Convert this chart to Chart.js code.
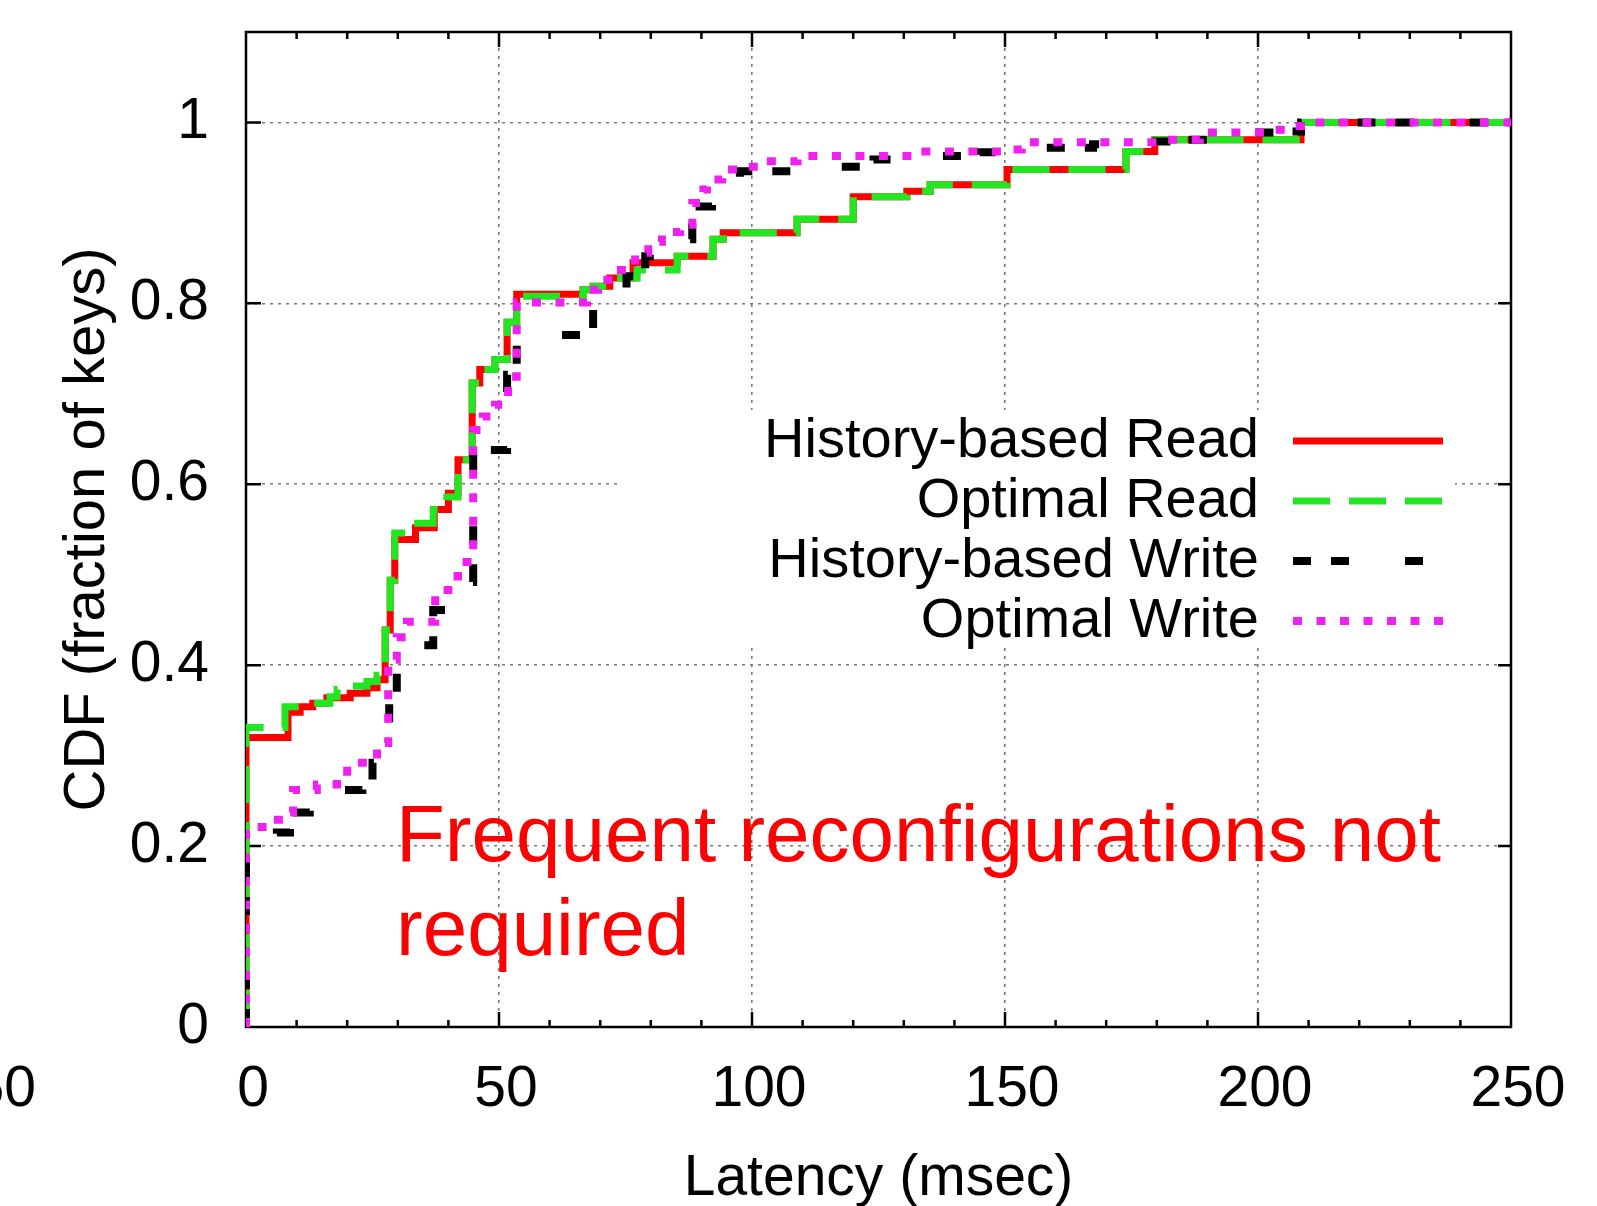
<!DOCTYPE html>
<html>
<head>
<meta charset="utf-8">
<script src="https://cdn.jsdelivr.net/npm/chart.js@4.4.1/dist/chart.umd.min.js"></script>
<style>
  html, body { margin: 0; padding: 0; background: #fff; }
  #wrap { width: 1597px; height: 1206px; position: relative; }
</style>
</head>
<body>
<div id="wrap"><canvas id="cdfChart" width="1597" height="1206"></canvas></div>
<script>
// axis ticks
const latencyTicks = [0, 50, 100, 150, 200, 250];
const cdfTicks = [0, 0.2, 0.4, 0.6, 0.8, 1];

// History-based Read
const readHistX = [0, 0, 8.3, 10.7, 13.2, 16.0, 20.6, 23.9, 25.9, 27.5, 28.5, 29.4, 33.5, 37.2, 40.0, 41.9, 44.7, 46.2, 49.2, 51.6, 53.5, 66.6, 68.6, 71.9, 76.5, 85.2, 92.3, 94.3, 108.9, 120.0, 130.6, 135.2, 150.4, 173.9, 179.6, 208.5, 250];
const readHistY = [0, 0.320, 0.348, 0.354, 0.358, 0.364, 0.369, 0.375, 0.384, 0.439, 0.494, 0.539, 0.552, 0.572, 0.590, 0.627, 0.712, 0.727, 0.738, 0.779, 0.810, 0.815, 0.819, 0.828, 0.845, 0.852, 0.871, 0.878, 0.893, 0.918, 0.924, 0.931, 0.948, 0.968, 0.981, 1.0, 1.0];

// Optimal Read
const readOptX = [0, 0, 7.7, 11.0, 16.6, 18.0, 21.1, 23.9, 25.9, 27.5, 28.5, 29.4, 33.0, 37.0, 39.7, 41.9, 44.7, 46.2, 49.2, 51.6, 53.5, 66.6, 68.6, 71.9, 77.3, 85.2, 92.3, 94.3, 108.9, 120.0, 130.6, 135.2, 150.4, 173.9, 179.8, 208.5, 250];
const readOptY = [0, 0.331, 0.354, 0.358, 0.365, 0.373, 0.377, 0.382, 0.389, 0.439, 0.494, 0.546, 0.557, 0.572, 0.586, 0.627, 0.712, 0.727, 0.738, 0.779, 0.808, 0.815, 0.819, 0.828, 0.837, 0.852, 0.871, 0.878, 0.893, 0.918, 0.924, 0.931, 0.948, 0.968, 0.981, 1.0, 1.0];

// History-based Write
const writeHistX = [0, 0, 6.1, 8.7, 12.6, 15.0, 17.2, 23.0, 25.0, 27.8, 28.3, 29.8, 37.0, 41.9, 44.9, 51.6, 53.5, 68.6, 70.0, 73.2, 75.2, 78.9, 79.8, 83.8, 88.2, 92.1, 93.7, 97.6, 111.5, 124.0, 131.2, 145.0, 151.6, 167.4, 173.0, 184.4, 199.4, 205.5, 208.5, 250];
const writeHistY = [0, 0.207, 0.215, 0.237, 0.246, 0.251, 0.262, 0.273, 0.292, 0.325, 0.362, 0.422, 0.461, 0.492, 0.638, 0.721, 0.765, 0.801, 0.810, 0.817, 0.830, 0.852, 0.863, 0.871, 0.907, 0.929, 0.937, 0.946, 0.951, 0.959, 0.963, 0.967, 0.972, 0.976, 0.979, 0.981, 0.989, 0.990, 1.0, 1.0];

// Optimal Write
const writeOptX = [0, 0, 4.7, 7.7, 9.3, 14.0, 18.0, 20.0, 25.9, 28.1, 29.8, 31.8, 37.4, 40.0, 41.9, 44.9, 46.8, 49.2, 51.8, 53.5, 67.4, 69.6, 73.2, 76.9, 79.5, 82.2, 85.8, 88.2, 90.4, 91.1, 94.1, 98.0, 101.6, 109.0, 131.6, 149.6, 153.3, 180.6, 188.5, 201.8, 205.7, 208.5, 250];
const writeOptY = [0, 0.221, 0.229, 0.237, 0.262, 0.268, 0.273, 0.292, 0.314, 0.406, 0.431, 0.448, 0.483, 0.498, 0.514, 0.660, 0.675, 0.688, 0.719, 0.801, 0.815, 0.826, 0.837, 0.856, 0.868, 0.879, 0.887, 0.911, 0.926, 0.937, 0.948, 0.951, 0.957, 0.963, 0.968, 0.970, 0.978, 0.981, 0.989, 0.992, 0.996, 1.0, 1.0];

const seriesNames = ['History-based Read', 'Optimal Read', 'History-based Write', 'Optimal Write'];
const seriesColors = ['#ff0000', '#22e622', '#000000', '#f020f0'];

const FONT = "'Liberation Sans', Arial, Helvetica, sans-serif";
Chart.defaults.font.family = FONT;
Chart.defaults.color = '#000';

function toPoints(xs, ys) {
    return xs.map((x, i) => ({ x: x, y: ys[i] }));
}

const lineStyles = [
    { width: 7, dash: [] },
    { width: 7, dash: [37, 19] },
    { width: 8, dash: [18, 20, 18, 56] },
    { width: 8, dash: [9, 14.5] }
];

const seriesData = [
    toPoints(readHistX, readHistY),
    toPoints(readOptX, readOptY),
    toPoints(writeHistX, writeHistY),
    toPoints(writeOptX, writeOptY)
];

const datasets = seriesData.map((d, i) => ({
    label: seriesNames[i],
    data: d,
    borderColor: seriesColors[i],
    borderWidth: lineStyles[i].width,
    borderDash: lineStyles[i].dash,
    borderCapStyle: 'butt',
    borderJoinStyle: 'miter',
    stepped: true,
    pointRadius: 0,
    fill: false,
    order: 4 - i
}));

// frame, inward ticks, in-plot key and the annotation, drawn like gnuplot does
const gnuplotBits = {
    id: 'gnuplotBits',
    beforeDatasetsDraw(chart) {
        const { ctx, chartArea: a } = chart;
        const xs = chart.scales.x, ys = chart.scales.y;
        ctx.save();
        ctx.strokeStyle = '#000';
        ctx.lineWidth = 2.5;
        ctx.strokeRect(a.left, a.top, a.right - a.left, a.bottom - a.top);
        ctx.beginPath();
        for (let v = 10; v < 250; v += 10) {
            const px = xs.getPixelForValue(v);
            const len = v % 50 === 0 ? 15 : 7;
            ctx.moveTo(px, a.bottom); ctx.lineTo(px, a.bottom - len);
            ctx.moveTo(px, a.top); ctx.lineTo(px, a.top + len);
        }
        cdfTicks.forEach(v => {
            if (v === 0) return;
            const py = ys.getPixelForValue(v);
            ctx.moveTo(a.left, py); ctx.lineTo(a.left + 15, py);
            ctx.moveTo(a.right, py); ctx.lineTo(a.right - 13, py);
        });
        ctx.stroke();
        ctx.restore();
    },
    afterDatasetsDraw(chart) {
        const { ctx, chartArea: a } = chart;
        ctx.save();
        // key box
        ctx.fillStyle = '#fff';
        ctx.fillRect(618, 410, 837, 237);
        ctx.font = '56px ' + FONT;
        ctx.textAlign = 'right';
        ctx.textBaseline = 'middle';
        seriesNames.forEach((name, i) => {
            const ry = 442 + i * 60;
            ctx.fillStyle = '#000';
            ctx.fillText(name, 1259, ry);
            ctx.beginPath();
            ctx.strokeStyle = seriesColors[i];
            ctx.lineWidth = lineStyles[i].width;
            ctx.lineCap = 'butt';
            ctx.setLineDash(lineStyles[i].dash);
            ctx.moveTo(1293, ry - 1);
            ctx.lineTo(1443, ry - 1);
            ctx.stroke();
        });
        ctx.setLineDash([]);
        // annotation
        ctx.fillStyle = '#ff0000';
        ctx.font = '80px ' + FONT;
        ctx.textAlign = 'left';
        ctx.textBaseline = 'alphabetic';
        ctx.fillText('Frequent reconfigurations not', 396, 861);
        ctx.fillText('required', 396, 955);
        // clipped -50 tick label left of the frame
        ctx.fillStyle = '#000';
        ctx.font = '57px ' + FONT;
        ctx.textAlign = 'right';
        ctx.textBaseline = 'middle';
        ctx.fillText('-50', 36, a.bottom + 63);
        ctx.restore();
    }
};

new Chart(document.getElementById('cdfChart').getContext('2d'), {
    type: 'line',
    data: { datasets: datasets },
    options: {
        responsive: false,
        animation: false,
        layout: { padding: { top: 32, right: 86, left: 0, bottom: 0 } },
        plugins: {
            legend: { display: false },
            tooltip: { enabled: false }
        },
        scales: {
            x: {
                type: 'linear',
                position: 'bottom',
                min: 0,
                max: 250,
                afterBuildTicks: s => { s.ticks = latencyTicks.map(v => ({ value: v })); },
                afterFit: s => { s.height = 179; s.paddingLeft = 0; s.paddingRight = 0; },
                ticks: {
                    font: { size: 57 },
                    color: '#000',
                    padding: 29,
                    labelOffset: 7,
                    maxRotation: 0,
                    autoSkip: false
                },
                grid: {
                    color: c => (c.tick && (c.tick.value === 0 || c.tick.value === 250)) ? 'rgba(0,0,0,0)' : '#7a7a7a',
                    lineWidth: 1.6,
                    drawTicks: false
                },
                border: { display: false, dash: [3, 5] },
                title: {
                    display: true,
                    text: 'Latency (msec)',
                    font: { size: 57 },
                    color: '#000',
                    padding: { top: 0, bottom: -7 }
                }
            },
            y: {
                min: 0,
                max: 1.1,
                afterBuildTicks: s => { s.ticks = cdfTicks.map(v => ({ value: v })); },
                afterFit: s => { s.width = 246; s.paddingTop = 0; s.paddingBottom = 0; },
                ticks: {
                    font: { size: 57 },
                    color: '#000',
                    padding: 37,
                    callback: v => String(v)
                },
                grid: {
                    color: c => (c.tick && c.tick.value === 0) ? 'rgba(0,0,0,0)' : '#7a7a7a',
                    lineWidth: 1.6,
                    drawTicks: false
                },
                border: { display: false, dash: [3, 5] },
                title: {
                    display: true,
                    text: 'CDF (fraction of keys)',
                    font: { size: 58 },
                    color: '#000',
                    padding: { top: 53, bottom: 0 }
                }
            }
        }
    },
    plugins: [gnuplotBits]
});
</script>
</body>
</html>
